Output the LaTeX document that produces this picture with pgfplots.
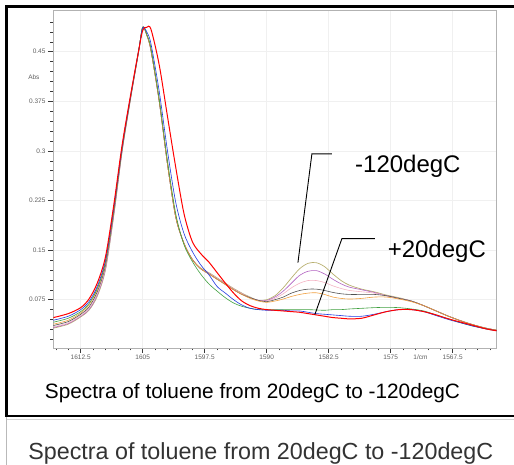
\documentclass[border=0pt]{standalone}
\usepackage{pgfplots}
\pgfplotsset{compat=1.18}
\usepackage{pgfplotstable}
\usepackage{fontspec}
\setmainfont{Liberation Sans}

\definecolor{cRed}{HTML}{FF0000}
\definecolor{cBlue}{HTML}{2038E0}
\definecolor{cGreen}{HTML}{3FA03F}
\definecolor{cOrange}{HTML}{F0A040}
\definecolor{cBlack}{HTML}{505050}
\definecolor{cPink}{HTML}{F4B4C4}
\definecolor{cPurple}{HTML}{B060C0}
\definecolor{cOlive}{HTML}{B8B070}

% absorbance spectra, +20degC (r) ... -120degC (y)
\pgfplotstableread{
x      r     b     g      o      k     p     v     y
1615.8 0.048 0.044 0.041  0.038  0.036 0.034 0.033 0.032
1614   0.054 0.050 0.047  0.044  0.042 0.040 0.039 0.038
1612.5 0.063 0.060 0.057  0.055  0.053 0.051 0.050 0.049
1611.5 0.076 0.072 0.069  0.067  0.064 0.062 0.060 0.059
1610.5 0.100 0.095 0.092  0.090  0.087 0.084 0.082 0.080
1609.5 0.140 0.135 0.132  0.130  0.127 0.124 0.122 0.120
1608.5 0.218 0.214 0.211  0.210  0.207 0.205 0.203 0.202
1607.5 0.308 0.305 0.303  0.303  0.301 0.300 0.299 0.298
1606.5 0.382 0.380 0.379  0.379  0.378 0.377 0.377 0.376
1605.5 0.451 0.451 0.451  0.450  0.450 0.450 0.449 0.449
1605   0.482 0.486 0.487  0.487  0.487 0.487 0.487 0.487
1604.5 0.487 0.480 0.476  0.475  0.475 0.475 0.475 0.475
1604   0.484 0.462 0.455  0.452  0.452 0.452 0.452 0.452
1603   0.430 0.390 0.378  0.375  0.375 0.375 0.375 0.375
1602   0.352 0.300 0.285  0.280  0.280 0.280 0.280 0.280
1601   0.275 0.222 0.205  0.200  0.200 0.200 0.200 0.200
1600   0.205 0.175 0.158  0.160  0.160 0.160 0.160 0.160
1599   0.163 0.148 0.133  0.136  0.136 0.136 0.136 0.136
1598   0.145 0.128 0.114  0.122  0.122 0.122 0.122 0.123
1597   0.132 0.113 0.099  0.114  0.114 0.115 0.115 0.116
1596   0.116 0.095 0.088  0.106  0.106 0.107 0.107 0.108
1595   0.100 0.085 0.078  0.098  0.098 0.099 0.099 0.100
1594   0.085 0.075 0.070  0.090  0.090 0.091 0.091 0.092
1593   0.073 0.067 0.065  0.083  0.083 0.084 0.084 0.085
1592   0.066 0.062 0.062  0.077  0.078 0.078 0.078 0.079
1591   0.062 0.060 0.060  0.073  0.074 0.074 0.074 0.074
1590   0.060 0.059 0.060  0.071  0.072 0.073 0.074 0.075
1589   0.059 0.059 0.060  0.073  0.075 0.077 0.079 0.081
1588   0.058 0.059 0.060  0.076  0.079 0.084 0.088 0.093
1587   0.057 0.058 0.060  0.080  0.085 0.093 0.100 0.108
1586   0.056 0.058 0.060  0.083  0.089 0.100 0.112 0.122
1585   0.054 0.056 0.060  0.085  0.091 0.104 0.118 0.130
1584   0.052 0.054 0.0595 0.0855 0.091 0.104 0.119 0.131
1583   0.050 0.053 0.059  0.083  0.089 0.101 0.114 0.125
1582   0.048 0.052 0.060  0.079  0.086 0.096 0.106 0.114
1581   0.047 0.051 0.060  0.077  0.084 0.092 0.099 0.104
1580   0.046 0.050 0.061  0.076  0.083 0.089 0.094 0.097
1578.5 0.047 0.050 0.062  0.077  0.083 0.087 0.090 0.091
1577   0.052 0.053 0.063  0.079  0.083 0.085 0.086 0.087
1575.5 0.057 0.057 0.0635 0.079  0.081 0.081 0.081 0.082
1574   0.060 0.060 0.063  0.076  0.077 0.077 0.077 0.078
1572.5 0.060 0.060 0.061  0.072  0.073 0.073 0.073 0.073
1571   0.057 0.057 0.058  0.066  0.066 0.066 0.066 0.066
1569.5 0.052 0.051 0.052  0.058  0.058 0.058 0.058 0.058
1568   0.046 0.045 0.046  0.050  0.050 0.050 0.050 0.050
1566.5 0.041 0.040 0.040  0.043  0.043 0.043 0.043 0.043
1565   0.036 0.035 0.035  0.037  0.037 0.037 0.037 0.037
1563.5 0.031 0.031 0.031  0.032  0.032 0.032 0.032 0.032
1562.2 0.028 0.028 0.028  0.029  0.029 0.029 0.029 0.029
}\spectra

\begin{document}
\begin{tikzpicture}[x=1pt,y=1pt]
\path[use as bounding box] (0,0) rectangle (514,465);
% frames
\draw[gray!55, line width=0.8pt] (6.7,0) -- (6.7,49);
\draw[gray!35, line width=0.6pt] (6.7,45.5) -- (514,45.5);
\draw[line width=2.6pt] (5,458.5) -- (514,458.5);
\draw[line width=2.6pt] (6.7,459.8) -- (6.7,47.7);
\draw[line width=2.6pt] (5,49) -- (514,49);

\begin{axis}[
  at={(53pt,117pt)}, anchor=south west,
  width=443.5pt, height=337.3pt, scale only axis,
  x dir=reverse,
  xmin=1562.2, xmax=1615.85, ymin=0.002, ymax=0.512,
  xtick={1567.5,1575,1582.5,1590,1597.5,1605,1612.5},
  xticklabels={1567.5,1575,1582.5,1590,1597.5,1605,1612.5},
  ytick={0.075,0.15,0.225,0.3,0.375,0.45},
  yticklabels={0.075,0.15,0.225,0.3,0.375,0.45},
  minor xtick={1563,1564.5,...,1615.5},
  minor ytick={0.015,0.03,...,0.5},
  grid=major, major grid style={gray!12, line width=0.6pt},
  axis line style={gray!60, line width=0.7pt},
  tick style={gray!45!black, line width=0.5pt},
  tick align=outside, major tick length=5pt, minor tick length=2.5pt,
  xtick pos=lower, ytick pos=left,
  ticklabel style={font=\fontsize{6.5}{7}\selectfont, text=gray!75!black},
  xticklabel style={yshift=2pt}, yticklabel style={xshift=1pt},
  clip mode=individual,
]
\addplot[cOlive, line width=0.7pt, smooth] table[x=x,y=y] {\spectra};
\addplot[cPurple, line width=0.6pt, smooth] table[x=x,y=v] {\spectra};
\addplot[cPink, line width=0.6pt, smooth] table[x=x,y=p] {\spectra};
\addplot[cBlack, line width=0.6pt, smooth] table[x=x,y=k] {\spectra};
\addplot[cOrange, line width=0.6pt, smooth] table[x=x,y=o] {\spectra};
\addplot[cGreen, line width=0.6pt, smooth] table[x=x,y=g] {\spectra};
\addplot[cBlue, line width=0.6pt, smooth] table[x=x,y=b] {\spectra};
\addplot[cRed, line width=1pt, smooth] table[x=x,y=r] {\spectra};

\node[anchor=east, font=\fontsize{6.5}{7}\selectfont, text=gray!75!black, xshift=-10pt] at (axis cs:1615.85,0.412) {Abs};
\node[anchor=north, font=\fontsize{6.5}{7}\selectfont, text=gray!75!black, yshift=-3pt] at (axis cs:1571.4,0.002) {1/cm};

\draw[black, line width=0.9pt] (axis cs:1582.11,0.2956) -- (axis cs:1584.53,0.2956) -- (axis cs:1586.22,0.1311);
\draw[black, line width=0.9pt] (axis cs:1576.91,0.1674) -- (axis cs:1580.9,0.1674) -- (axis cs:1584.17,0.0527);
\node[font=\fontsize{24}{28}\selectfont] at (axis cs:1572.92,0.276) {-120degC};
\node[font=\fontsize{24}{28}\selectfont] at (axis cs:1569.42,0.1477) {+20degC};
\end{axis}

\node[font=\fontsize{20.8}{24}\selectfont] at (252.5,72) {Spectra of toluene from 20degC to -120degC};
\node[font=\fontsize{23.3}{27}\selectfont, text=black!80] at (260.8,12) {Spectra of toluene from 20degC to -120degC};
\end{tikzpicture}
\end{document}
